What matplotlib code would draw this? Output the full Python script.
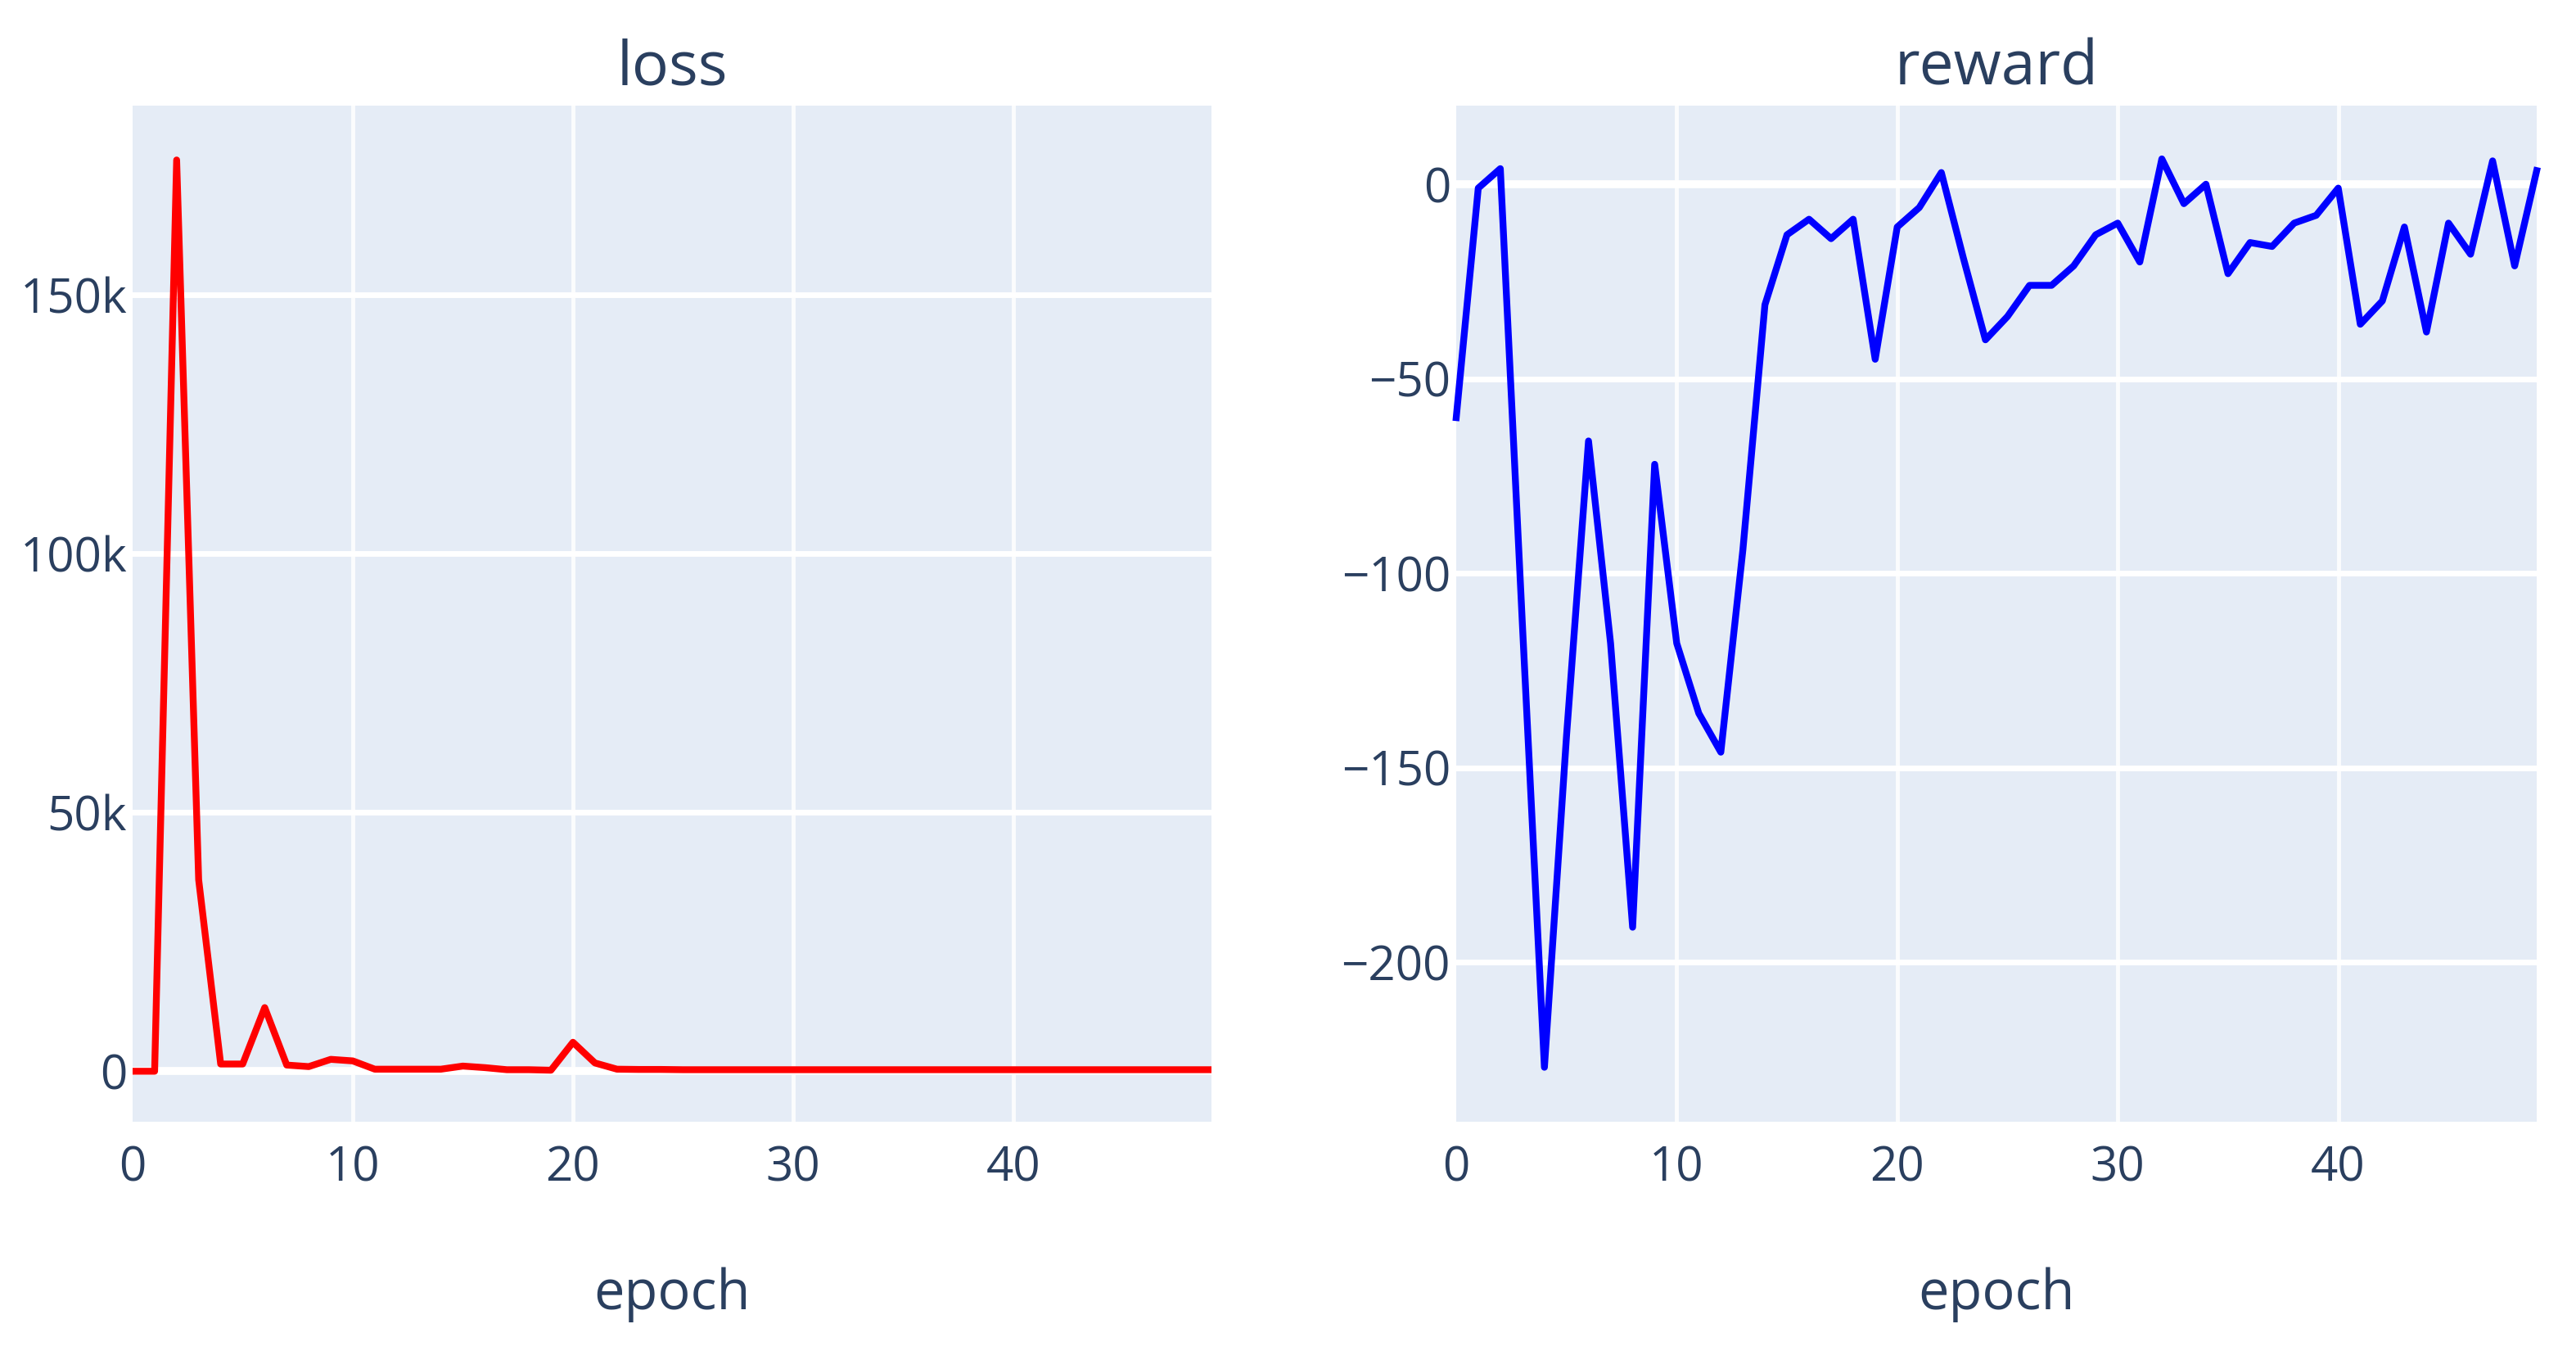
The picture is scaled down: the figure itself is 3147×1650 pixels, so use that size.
import matplotlib
matplotlib.use("Agg")
from matplotlib import pyplot as plt
from matplotlib.ticker import FixedLocator, FixedFormatter

epochs = list(range(50))

loss = [0, 0, 176000, 37000, 1400, 1400, 12300, 1200, 900, 2300,
        2000, 400, 400, 400, 400, 1000, 700, 300, 300, 200,
        5600, 1600, 400, 350, 350, 300, 300, 300, 300, 300,
        300, 300, 300, 300, 300, 300, 300, 300, 300, 300,
        300, 300, 300, 300, 300, 300, 300, 300, 300, 300]

reward = [-60, -1, 4, -113, -227, -142, -66, -118, -191, -72,
          -118, -136, -146, -94, -31, -13, -9, -14, -9, -45,
          -11, -6, 3, -19, -40, -34, -26, -26, -21, -13,
          -10, -20, 6.5, -5, 0, -23, -15, -16, -10, -8,
          -1, -36, -30, -11, -38, -10, -18, 6, -21, 3.5]

loss_ticks = [0, 50000, 100000, 150000]
loss_tick_labels = ["0", "50k", "100k", "150k"]
reward_ticks = [-200, -150, -100, -50, 0]
reward_tick_labels = ["\u2212200", "\u2212150", "\u2212100", "\u221250", "0"]
x_ticks = [0, 10, 20, 30, 40]

BG = "#e5ecf6"
TXT = "#2a3f5f"

plt.rcParams["font.family"] = ["Open Sans", "DejaVu Sans"]


def style_axis(ax, yticks, ylabels, ylim, title):
    ax.set_facecolor(BG)
    for s in ax.spines.values():
        s.set_visible(False)
    ax.set_xlim(0, 49)
    ax.set_ylim(*ylim)
    ax.xaxis.set_major_locator(FixedLocator(x_ticks))
    ax.yaxis.set_major_locator(FixedLocator(yticks))
    ax.yaxis.set_major_formatter(FixedFormatter(ylabels))
    ax.tick_params(axis="x", length=0, pad=20, labelsize=42, labelcolor=TXT)
    ax.tick_params(axis="y", length=0, pad=5, labelsize=42, labelcolor=TXT)
    # plotly-like grid: vertical lines thinner than horizontal ones
    for t in x_ticks[1:]:
        ax.axvline(t, color="white", lw=3.5, alpha=0.85, zorder=0.5)
    for t in yticks:
        ax.axhline(t, color="white", lw=7 if t == 0 else 5, zorder=0.5)
    ax.text(0.5, 1.0 + (129 - 104) / 1241, title, transform=ax.transAxes,
            ha="center", va="baseline", fontsize=54, color=TXT)
    ax.text(0.5, -(1599 - 1370) / 1241, "epoch", transform=ax.transAxes,
            ha="center", va="baseline", fontsize=48, color=TXT)


fig = plt.figure(figsize=(31.47, 16.5), dpi=100)
ax1 = fig.add_axes([162 / 3147, 1 - 1370 / 1650, 1318 / 3147, 1241 / 1650])
ax2 = fig.add_axes([1779 / 3147, 1 - 1370 / 1650, 1320 / 3147, 1241 / 1650])

ax1.plot(epochs, loss, color="#ff0000", lw=6, solid_joinstyle="round", zorder=2)
style_axis(ax1, loss_ticks, loss_tick_labels, (-9750, 186500), "loss")

ax2.plot(epochs, reward, color="#0000ff", lw=6, solid_joinstyle="round",
         zorder=2, clip_on=False)
style_axis(ax2, reward_ticks, reward_tick_labels, (-241, 20.2), "reward")

fig.savefig("out.png", dpi=100, facecolor="white")
